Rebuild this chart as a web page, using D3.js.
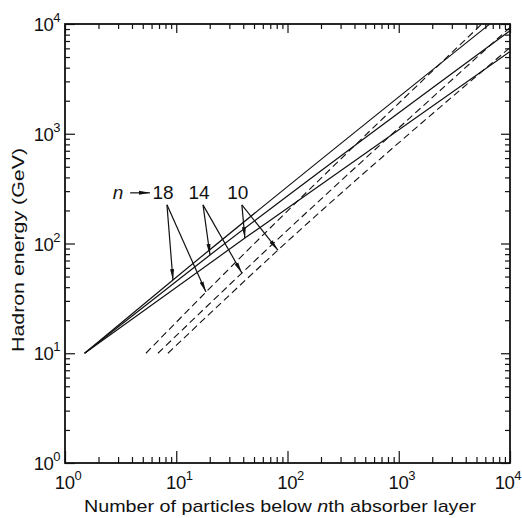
<!DOCTYPE html>
<html>
<head>
<meta charset="utf-8">
<script src="https://cdn.jsdelivr.net/npm/d3@7.9.0/dist/d3.min.js"></script>
<style>
    body { margin: 0; background: #fff; }
    svg text { font-family: 'Liberation Sans', 'DejaVu Sans', sans-serif; fill: #111; }
</style>
</head>
<body>
<div id="chart"></div>
<script>
// decade ticks and their exponents
const decades = [1, 10, 100, 1000, 10000];
const exponents = ['0', '1', '2', '3', '4'];

// absorber layer n for each pair of curves
const layers = ['18', '14', '10'];

// solid curves (start, point under the arrow, end)
const solidX = [[1.5, 9.34, 6580], [1.5, 20.1, 10000], [1.5, 41.4, 10000]];
const solidY = [[10, 46.5, 10000], [10, 78.6, 8700], [10, 112, 5600]];

// dashed curves
const dashedX = [[5.34, 18.5, 5580], [6.85, 38.9, 10000], [8.42, 82, 10000]];
const dashedY = [[10, 36.1, 10000], [10, 53.8, 9300], [10, 87, 6100]];

// where the arrows of each label start
const labelX = [8.25, 17.4, 38.9];
const labelY = [225, 225, 225];

const width = 522;
const height = 518;
const margin = { top: 24, right: 12, bottom: 55, left: 65 };

const svg = d3.select('#chart')
    .append('svg')
    .attr('width', width)
    .attr('height', height);

const xScale = d3.scaleLog().domain([1, 1e4]).range([margin.left, width - margin.right]);
const yScale = d3.scaleLog().domain([1, 1e4]).range([height - margin.bottom, margin.top]);

const x0 = xScale.range()[0], x1 = xScale.range()[1];
const y0 = yScale.range()[0], y1 = yScale.range()[1];

// minor ticks 2..9 in every decade
const minor = [];
for (const d of decades.slice(0, 4)) {
    for (let k = 2; k <= 9; k++) minor.push(k * d);
}

// ticks point inward on all four sides
const axes = [
    [() => d3.axisBottom(xScale), `translate(0, ${y0})`, 6, 12],
    [() => d3.axisTop(xScale), `translate(0, ${y1})`, 5, 9],
    [() => d3.axisLeft(yScale), `translate(${x0}, 0)`, 5, 10],
    [() => d3.axisRight(yScale), `translate(${x1}, 0)`, 5, 9],
];

for (const [makeAxis, tr, minorSize, majorSize] of axes) {
    for (const [values, size] of [[minor, minorSize], [decades, majorSize]]) {
        const g = svg.append('g')
            .attr('transform', tr)
            .call(makeAxis().tickValues(values).tickSize(-size).tickFormat(''));
        g.select('.domain').remove();
        g.selectAll('line').attr('stroke', '#111').attr('stroke-width', 1.2);
    }
}

// frame
svg.append('rect')
    .attr('x', x0)
    .attr('y', y1)
    .attr('width', x1 - x0)
    .attr('height', y0 - y1)
    .attr('fill', 'none')
    .attr('stroke', '#111')
    .attr('stroke-width', 1.8);

// tick labels: 10 with a raised exponent
function powerLabel(sel, exp) {
    sel.append('tspan').text('10');
    sel.append('tspan').attr('dy', -9).attr('font-size', '13px').text(exp);
}

decades.forEach((d, i) => {
    const last = i === decades.length - 1;
    svg.append('text')
        .attr('x', last ? width - 1 : xScale(d) + 3)
        .attr('y', y0 + 26)
        .attr('text-anchor', last ? 'end' : 'middle')
        .attr('font-size', '18.5px')
        .attr('letter-spacing', '-0.5px')
        .call(powerLabel, exponents[i]);

    svg.append('text')
        .attr('x', x0 - 5)
        .attr('y', yScale(d) + 7)
        .attr('text-anchor', 'end')
        .attr('font-size', '18.5px')
        .attr('letter-spacing', '-0.5px')
        .call(powerLabel, exponents[i]);
});

// axis titles
svg.append('text')
    .attr('x', 280)
    .attr('y', 512)
    .attr('text-anchor', 'middle')
    .attr('font-size', '17px')
    .attr('textLength', 392)
    .attr('lengthAdjust', 'spacingAndGlyphs')
    .html('Number of particles below <tspan font-style="italic">n</tspan>th absorber layer');

svg.append('text')
    .attr('transform', 'translate(24, 250) rotate(-90)')
    .attr('text-anchor', 'middle')
    .attr('font-size', '17px')
    .attr('textLength', 204)
    .attr('lengthAdjust', 'spacingAndGlyphs')
    .text('Hadron energy (GeV)');

// curves
const line = d3.line()
    .x(d => xScale(d[0]))
    .y(d => yScale(d[1]))
    .curve(d3.curveMonotoneX);

const curves = svg.append('g').attr('class', 'curves');

layers.forEach((n, i) => {
    curves.append('path')
        .datum(d3.zip(solidX[i], solidY[i]))
        .attr('d', line)
        .attr('fill', 'none')
        .attr('stroke', '#111')
        .attr('stroke-width', 1.2);

    curves.append('path')
        .datum(d3.zip(dashedX[i], dashedY[i]))
        .attr('d', line)
        .attr('fill', 'none')
        .attr('stroke', '#111')
        .attr('stroke-width', 1.1)
        .attr('stroke-dasharray', '7,4');
});

// arrow head
svg.append('defs')
    .append('marker')
    .attr('id', 'head')
    .attr('viewBox', '0 -3 11 6')
    .attr('refX', 11)
    .attr('refY', 0)
    .attr('markerUnits', 'userSpaceOnUse')
    .attr('markerWidth', 11)
    .attr('markerHeight', 6)
    .attr('orient', 'auto')
    .append('path')
    .attr('d', 'M0,-2L11,0L0,2Z')
    .attr('fill', '#111');

// labels with arrows to the solid and dashed curve of the same n
const notes = svg.append('g').attr('class', 'notes');

layers.forEach((n, i) => {
    const sx = xScale(labelX[i]);
    const sy = yScale(labelY[i]);

    notes.append('text')
        .attr('x', sx - 4)
        .attr('y', sy - 6)
        .attr('text-anchor', 'middle')
        .attr('font-size', '19px')
        .text(n);

    for (const [cx, cy] of [[solidX[i][1], solidY[i][1]], [dashedX[i][1], dashedY[i][1]]]) {
        notes.append('line')
            .attr('x1', sx)
            .attr('y1', sy)
            .attr('x2', xScale(cx))
            .attr('y2', yScale(cy))
            .attr('stroke', '#111')
            .attr('stroke-width', 1.2)
            .attr('marker-end', 'url(#head)');
    }
});

// "n ->" in front of the labels
const ny = yScale(labelY[0]) - 12;
notes.append('text')
    .attr('x', xScale(3.0))
    .attr('y', ny + 6)
    .attr('text-anchor', 'middle')
    .attr('font-size', '19px')
    .attr('font-style', 'italic')
    .text('n');

notes.append('line')
    .attr('x1', xScale(3.85))
    .attr('y1', ny)
    .attr('x2', xScale(5.8))
    .attr('y2', ny)
    .attr('stroke', '#111')
    .attr('stroke-width', 1.2)
    .attr('marker-end', 'url(#head)');
</script>
</body>
</html>
